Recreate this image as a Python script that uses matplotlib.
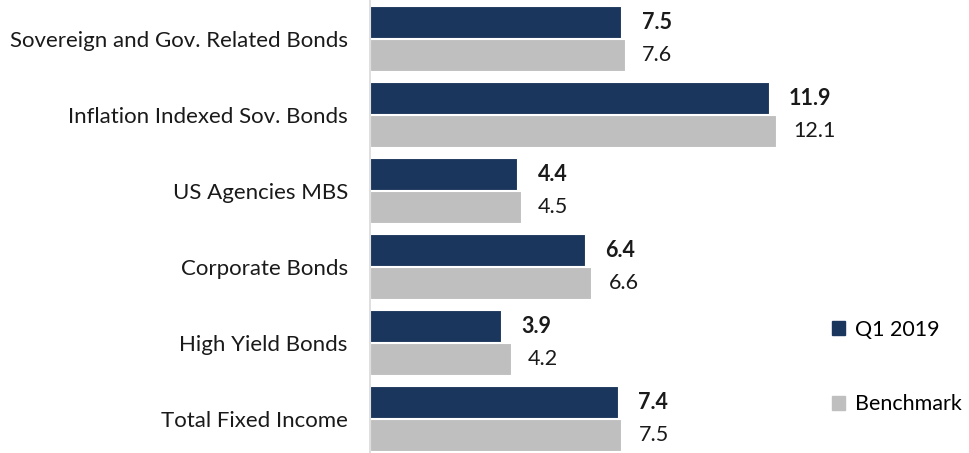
import matplotlib
matplotlib.use("Agg")
import matplotlib.pyplot as plt
import numpy as np
from matplotlib.patches import Patch

categories = ["Sovereign and Gov. Related Bonds", "Inflation Indexed Sov. Bonds",
              "US Agencies MBS", "Corporate Bonds", "High Yield Bonds", "Total Fixed Income"]
q1_2019 = [7.5, 11.9, 4.4, 6.4, 3.9, 7.4]
benchmark = [7.6, 12.1, 4.5, 6.6, 4.2, 7.5]
series_names = ["Q1 2019", "Benchmark"]

navy = "#1B365D"
gray = "#BFBFBF"

plt.rcParams['font.family'] = ['Lato', 'DejaVu Sans']

fig = plt.figure(figsize=(9.7, 4.53), dpi=100)
ax = fig.add_axes([370/970, 0, 600/970, 1])

y = np.arange(len(categories))
h = 0.42
ax.barh(y - 0.212, q1_2019, height=h, color=navy, edgecolor="white", linewidth=0.8)
ax.barh(y + 0.217, benchmark, height=h, color=gray, edgecolor="white", linewidth=0.8)

for yi, v in zip(y, q1_2019):
    ax.annotate(f"{v:.1f}", (v, yi - 0.212), xytext=(14.5, 0), textcoords="offset points",
                va="center", ha="left", fontsize=15.5, fontweight="bold", color="#1a1a1a")
for yi, v in zip(y, benchmark):
    ax.annotate(f"{v:.1f}", (v, yi + 0.217), xytext=(12.5, 0), textcoords="offset points",
                va="center", ha="left", fontsize=15.5, color="#1a1a1a")

ax.set_xlim(0, 17.9)
ax.set_ylim((453 - 38.5) / 76, -38.5 / 76)
ax.set_yticks(y)
ax.set_yticklabels(categories, fontsize=16, color="#1a1a1a")
ax.tick_params(axis="y", length=0, pad=16)
ax.set_xticks([])
for s in ["top", "right", "bottom"]:
    ax.spines[s].set_visible(False)
ax.spines["left"].set_color("#D9D9D9")
ax.spines["left"].set_linewidth(1.2)

handles = [Patch(facecolor=navy, edgecolor=navy), Patch(facecolor=gray, edgecolor=gray)]
fig.legend(handles, series_names, loc="center left", bbox_to_anchor=(832/970, 1 - 367/453),
           frameon=False, fontsize=15.5, handlelength=0.6, handleheight=0.6,
           handletextpad=0.45, labelspacing=2.55, borderaxespad=0, borderpad=0)

fig.savefig("out.png", dpi=100)
